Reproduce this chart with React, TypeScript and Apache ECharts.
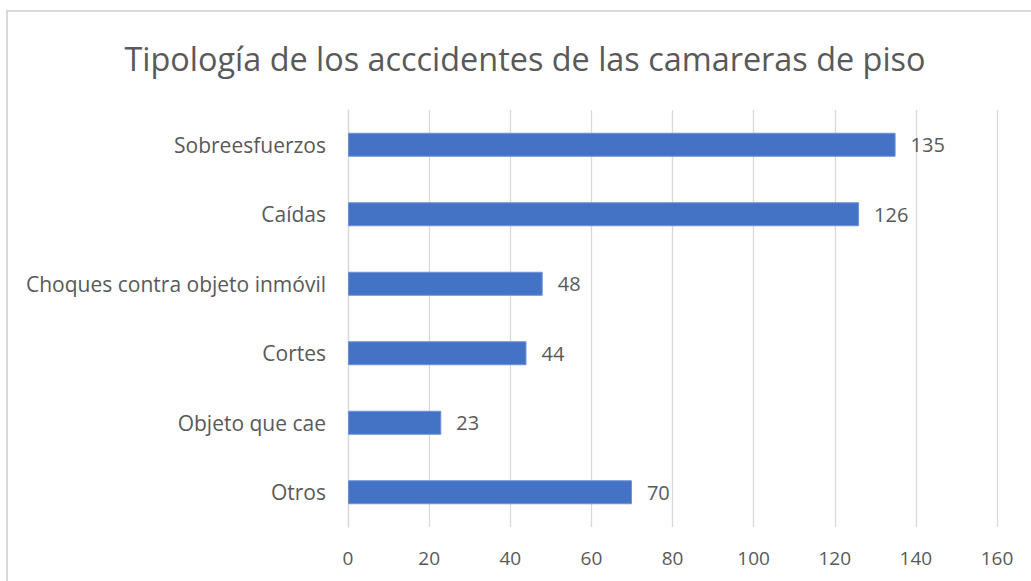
import React, { useEffect, useRef } from "react";
import * as echarts from "echarts";

const categories = [
  "Sobreesfuerzos",
  "Caídas",
  "Choques contra objeto inmóvil",
  "Cortes",
  "Objeto que cae",
  "Otros",
];
const values = [135, 126, 48, 44, 23, 70];
const titleText = "Tipología de los acccidentes de las camareras de piso";
const FONT = "'Open Sans', 'Noto Sans', sans-serif";
const TEXT = "#595959";

export default function App() {
  const ref = useRef<HTMLDivElement>(null);
  useEffect(() => {
    document.body.style.margin = "0";
    const chart = echarts.init(ref.current!, null, { renderer: "svg" });
    chart.setOption({
      animation: false,
      backgroundColor: "#ffffff",
      graphic: [
        {
          type: "rect",
          shape: { x: 7, y: 11, width: 1200, height: 800 },
          style: { fill: "none", stroke: "#d9d9d9", lineWidth: 2 },
          silent: true,
        },
        {
          type: "text",
          x: 525,
          y: 58,
          style: {
            text: titleText,
            fill: TEXT,
            fontFamily: FONT,
            fontSize: 32.4,
            textAlign: "center",
            textVerticalAlign: "middle",
          },
        },
      ],
      grid: { left: 348, right: 34, top: 110, bottom: 54, containLabel: false },
      xAxis: {
        type: "value",
        min: 0,
        max: 160,
        interval: 20,
        axisLine: { show: false },
        axisTick: { show: false },
        splitLine: { show: true, lineStyle: { color: "#d9d9d9", width: 1.3 } },
        axisLabel: {
          color: TEXT,
          fontFamily: FONT,
          fontSize: 19,
          margin: 21,
        },
      },
      yAxis: {
        type: "category",
        data: categories,
        inverse: true,
        axisLine: { show: true, lineStyle: { color: "#d9d9d9", width: 1.3 } },
        axisTick: { show: false },
        axisLabel: {
          color: TEXT,
          fontFamily: FONT,
          fontSize: 21,
          margin: 22,
        },
      },
      series: [
        {
          type: "bar",
          data: values,
          barWidth: 24,
          itemStyle: { color: "#4472C4", borderColor: "#6c92d6", borderWidth: 1 },
          label: {
            show: true,
            position: "right",
            distance: 15,
            color: TEXT,
            fontFamily: FONT,
            fontSize: 20,
          },
        },
      ],
    });
    return () => chart.dispose();
  }, []);
  return <div ref={ref} style={{ width: 1031, height: 581 }} />;
}
